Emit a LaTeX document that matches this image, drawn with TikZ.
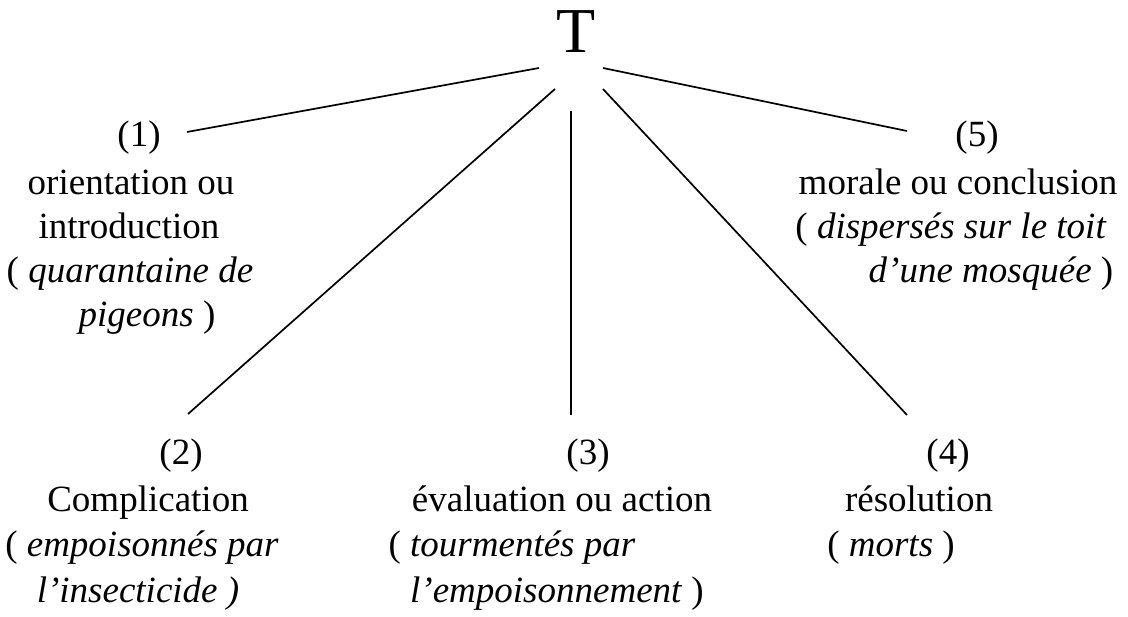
\documentclass[tikz,border=0pt]{standalone}
\usepackage{fontspec}
\setmainfont{Liberation Serif}
\begin{document}
\begin{tikzpicture}[x=1pt,y=-1pt,
  lbl/.style={anchor=base,inner sep=0pt,font=\fontsize{37}{44}\selectfont},
  conn/.style={line width=1.7pt}]
\useasboundingbox (0,0) rectangle (1128,617);
\node[anchor=base,inner sep=0pt,font=\fontsize{64}{70}\selectfont] (T) at (576,53) {T};
% block 1
\node[lbl] (n1) at (139,147) {(1)};
\node[lbl] (n1a) at (131,195) {orientation ou};
\node[lbl] (n1b) at (129,239) {introduction};
\node[lbl] (n1c) at (130,283) {( \textit{quarantaine de}};
\node[lbl] (n1d) at (147,327) {\textit{pigeons} )};
% block 5
\node[lbl] (n5) at (977,147) {(5)};
\node[lbl] (n5a) at (958,195) {morale ou conclusion};
\node[lbl] (n5b) at (951,239) {( \textit{dispersés sur le toit}};
\node[lbl] (n5c) at (991,283) {\textit{d’une mosquée} )};
% block 2
\node[lbl] (n2) at (181,465) {(2)};
\node[lbl] (n2a) at (148,512) {Complication};
\node[lbl] (n2b) at (142,557) {( \textit{empoisonnés par}};
\node[lbl] (n2c) at (138,602) {\textit{l’insecticide )}};
% block 3
\node[lbl] (n3) at (588,465) {(3)};
\node[lbl] (n3a) at (562,512) {évaluation ou action};
\node[lbl] (n3b) at (512,557) {( \textit{tourmentés par}};
\node[lbl] (n3c) at (557,602) {\textit{l’empoisonnement} )};
% block 4
\node[lbl] (n4) at (948,465) {(4)};
\node[lbl] (n4a) at (919,512) {résolution};
\node[lbl] (n4b) at (891,557) {( \textit{morts} )};
% connector ends
\coordinate (s1) at (539,68);
\coordinate (s2) at (555,89);
\coordinate (s3) at (571,111);
\coordinate (s4) at (603,89);
\coordinate (s5) at (603,68);
\coordinate (e1) at (187,132);
\coordinate (e2) at (188,414);
\coordinate (e3) at (571,415);
\coordinate (e4) at (907,415);
\coordinate (e5) at (907,131);
\draw[conn] (s1) -- (e1);
\draw[conn] (s2) -- (e2);
\draw[conn] (s3) -- (e3);
\draw[conn] (s4) -- (e4);
\draw[conn] (s5) -- (e5);
\end{tikzpicture}
\end{document}
